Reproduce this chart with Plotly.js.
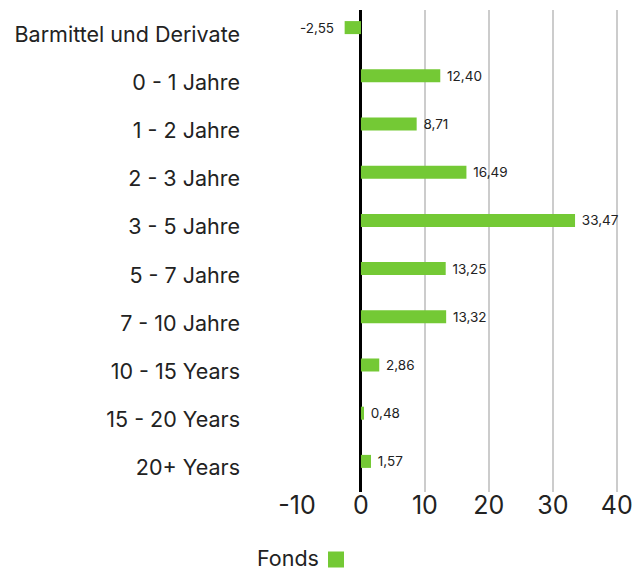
<!DOCTYPE html>
<html><head><meta charset="utf-8">
<script src="https://cdn.plot.ly/plotly-3.0.1.min.js"></script>
<style>body{margin:0;}</style>
</head><body>
<div id="chart" style="width:639px;height:571px;"></div>
<script>
const categories = ["Barmittel und Derivate","0 - 1 Jahre","1 - 2 Jahre","2 - 3 Jahre","3 - 5 Jahre","5 - 7 Jahre","7 - 10 Jahre","10 - 15 Years","15 - 20 Years","20+ Years"];
const fondsValues = [-2.55,12.40,8.71,16.49,33.47,13.25,13.32,2.86,0.48,1.57];
const tickValues = [-10,0,10,20,30,40];
const seriesName = "Fonds";

const FONT = "Inter, 'Open Sans', sans-serif";
const GREEN = "#74c935";
const barTrace = {
  type: "bar", orientation: "h",
  x: fondsValues, y: categories,
  name: seriesName, showlegend: false,
  marker: {color: GREEN},
  width: 0.27, offset: -0.27,
  texttemplate: fondsValues.map(v => v < 0 ? "%{x:.2f}  " : " %{x:.2f}"),
  textposition: "outside", constraintext: "none",
  textfont: {size: 13.5, color: "#222", family: FONT},
  cliponaxis: false, hoverinfo: "x+y"
};
const legendTrace = {
  type: "scatter", mode: "markers", x: [null], y: [null],
  name: "", showlegend: true,
  marker: {symbol: "square", size: 18, color: GREEN}
};
const layout = {
  width: 639, height: 571,
  margin: {l: 297, r: 19, t: 10, b: 79},
  paper_bgcolor: "#fff", plot_bgcolor: "#fff",
  font: {family: FONT, color: "#222"},
  separators: ",.",
  xaxis: {
    range: [-10, 40.5], tickvals: tickValues, ticktext: tickValues.map(String),
    showgrid: true, gridcolor: "#cccccc", gridwidth: 2,
    zeroline: true, zerolinecolor: "#000", zerolinewidth: 3,
    showline: false, ticks: "", ticklabelstandoff: -4,
    tickfont: {size: 25, color: "#222", family: FONT}
  },
  yaxis: {
    autorange: "reversed", type: "category",
    showgrid: false, zeroline: false, showline: false, ticks: "",
    ticklabelstandoff: 56,
    tickfont: {size: 21.5, color: "#222", family: FONT}
  },
  showlegend: true,
  legend: {
    orientation: "h", xref: "container", yref: "container",
    x: 316 / 639, y: 0.02, xanchor: "left", yanchor: "middle",
    font: {size: 19}, itemwidth: 30
  },
  annotations: [{
    text: seriesName, xref: "paper", yref: "paper",
    x: -42 / 323, y: -66 / 482, xanchor: "left", yanchor: "middle",
    showarrow: false, font: {size: 21.5, color: "#222", family: FONT}
  }]
};
Plotly.newPlot("chart", [barTrace, legendTrace], layout, {displayModeBar: false});
</script>
</body></html>
